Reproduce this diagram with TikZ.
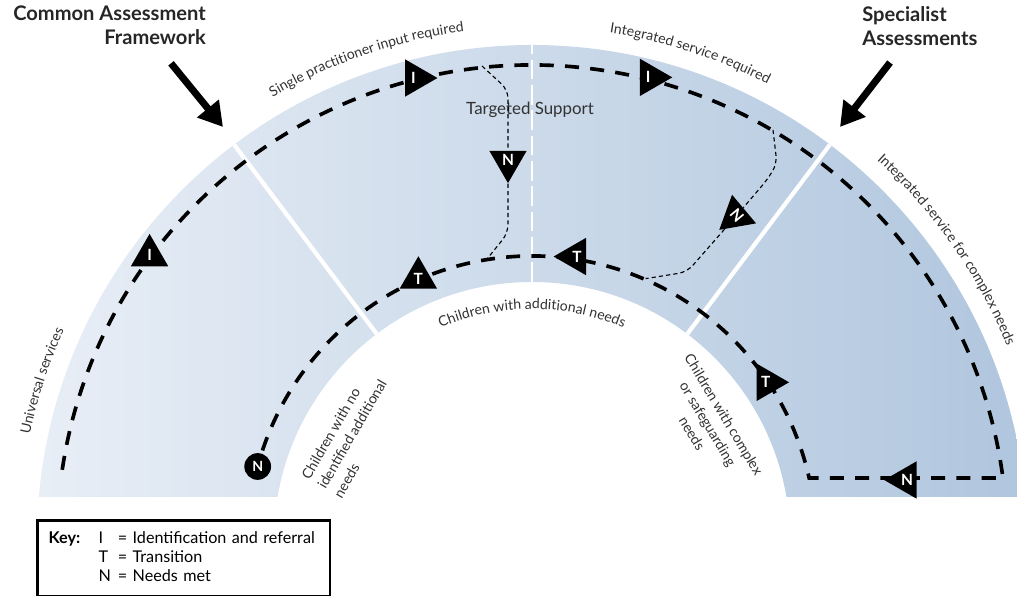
\documentclass[tikz,border=0pt]{standalone}
\usepackage{fontspec}
\setmainfont{Lato}
\usetikzlibrary{arrows.meta,positioning,shapes.geometric,decorations.text}

\definecolor{inkgray}{RGB}{50,50,50}
\definecolor{bandleft}{RGB}{232,238,246}
\definecolor{bandright}{RGB}{176,198,222}

\begin{document}
\begin{tikzpicture}[
    x=0.025cm, y=0.025cm,
    title/.style={font=\bfseries\fontsize{14.3}{17}\selectfont, text=black!85, inner sep=0pt},
    small/.style={font=\fontsize{10}{13.2}\selectfont, text=inkgray, inner sep=0pt},
    marker/.style={isosceles triangle, isosceles triangle apex angle=60, fill=black, text=white, font=\bfseries\fontsize{11}{11}\selectfont, inner sep=0pt, minimum size=23pt, shape border rotate=#1},
    endmark/.style={circle, fill=black, text=white, font=\bfseries\fontsize{10}{10}\selectfont, minimum size=19pt, inner sep=0pt},
    route/.style={line width=2.6pt, dash pattern=on 10pt off 8pt},
    shortcut/.style={line width=0.8pt, dash pattern=on 3pt off 2.2pt, rounded corners=6pt},
    divider/.style={draw=white, line width=3pt},
    pointer/.style={-{Triangle[length=17pt,width=19pt]}, line width=5pt},
    curved/.style={decorate, decoration={text along path, text align=center, text={|\fontsize{10}{12}\selectfont\color{inkgray}|#1}}}
]
\useasboundingbox (0,0) rectangle (1017,596);
\coordinate (c) at (532,56);

% Service band
\begin{scope}
  \clip (0,99) rectangle (1017,596);
  \shade[left color=bandleft, right color=bandright] ([shift={(0:495)}]c) arc[start angle=0, end angle=180, radius=495]
    -- ([shift={(180:258)}]c) arc[start angle=180, end angle=0, radius=258] -- cycle;
\end{scope}
\draw[divider] ([shift={(127:258)}]c) -- ([shift={(127:495)}]c);
\draw[divider] ([shift={(53:258)}]c) -- ([shift={(53:495)}]c);
\draw[draw=white, line width=1pt, dash pattern=on 14pt off 4pt] ([shift={(90:258)}]c) -- ([shift={(90:495)}]c);

% Headings and pointers
\node[title, align=right, anchor=north east] (caf) at (206,590) {Common Assessment\\Framework};
\node[title, align=left, anchor=north west] (spa) at (862,590) {Specialist\\Assessments};
\coordinate (cafhead) at (223,469);
\coordinate (spahead) at (840,469);
\draw[pointer] ([shift={(-35,-18)}]caf.south east) -- (cafhead);
\draw[pointer] ([shift={(28,-17)}]spa.south west) -- (spahead);

% Band labels
\path[curved={Universal services}] ([shift={(190:513)}]c) arc[start angle=190, end angle=134, radius=513];
\path[curved={Single practitioner input required}] ([shift={(139:513)}]c) arc[start angle=139, end angle=79, radius=513];
\path[curved={Integrated service required}] ([shift={(102:513)}]c) arc[start angle=102, end angle=42, radius=513];
\path[curved={Integrated service for complex needs}] ([shift={(65:513)}]c) arc[start angle=65, end angle=5, radius=513];
\path[curved={Children with additional needs}] ([shift={(130:231)}]c) arc[start angle=130, end angle=50, radius=231];
\node[small, font=\fontsize{12}{14}\selectfont] (tsup) at (530,486) {Targeted Support};
\node[small, align=left, rotate=60] (cno) at (352,162) {Children with no\\identified additional\\needs};
\node[small, align=center, rotate=-59] (ccx) at (708,172) {Children with complex\\or safeguarding\\needs};

% Main route
\coordinate (ustart) at ([shift={(171.5:475)}]c);
\coordinate (incorner) at ([shift={(12.6:284)}]c);
\draw[route] (ustart) arc[start angle=171.5, end angle=7.5, radius=475]
  -- (incorner) arc[start angle=12.6, end angle=165, radius=284];

% Shortcuts back to additional needs
\coordinate (splittop) at (482,530);
\coordinate (splitbend) at (508,506);
\coordinate (splitlow) at (508,363);
\coordinate (splitend) at ([shift={(99:285)}]c);
\coordinate (jointop) at (773,466);
\coordinate (joinbend) at (777,432);
\coordinate (joinknee) at (767,416);
\coordinate (joinlow) at (687,324);
\coordinate (joinend) at ([shift={(66.5:285)}]c);

% Markers
\node[marker=53] (iuni) at ([shift={(143.3:477)}]c) {I};
\node[marker=14] (isin) at ([shift={(104.4:477)}]c) {I};
\node[marker=-14] (iint) at ([shift={(75.9:477)}]c) {I};
\node[marker=90] (tin) at ([shift={(113.5:285)}]c) {T};
\node[marker=180] (tout) at ([shift={(81:287)}]c) {T};
\node[marker=0] (tcx) at ([shift={(34:282)}]c) {T};
\node[marker=180] (ncx) at (907,116) {N};
\node[marker=-90] (nsin) at (508,436) {N};
\node[marker=-81, rotate=-50] (nint) at (737,381) {N};
\node[endmark] (nend) at ([shift={(165:284)}]c) {N};

\draw[shortcut] (splittop) -- (splitbend) -- (nsin);
\draw[shortcut] (nsin) -- (splitlow) -- (splitend);
\draw[shortcut] (jointop) -- (joinbend) -- (joinknee) -- (nint);
\draw[shortcut] (nint) -- (joinlow) -- (joinend);

% Key
\node[draw, line width=2pt, anchor=north west, text width=6.75cm, align=left, minimum height=1.9cm,
      inner xsep=8pt, inner ysep=0pt, font=\fontsize{11.5}{13.5}\selectfont] (key) at (36,77) {%
  \begin{tabular}{@{}l@{\hspace{13pt}}l@{\hspace{5pt}}l@{}}
    \textbf{Key:} & I & = Identification and referral\\
     & T & = Transition\\
     & N & = Needs met
  \end{tabular}};
\end{tikzpicture}
\end{document}
